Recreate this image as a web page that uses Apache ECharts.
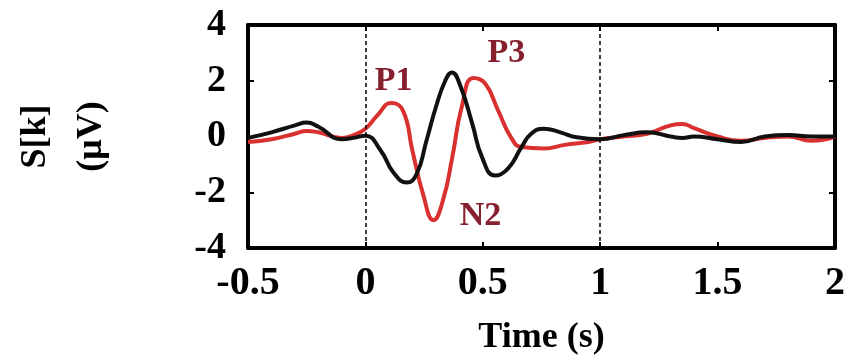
<!DOCTYPE html>
<html><head><meta charset="utf-8">
<script src="https://cdn.jsdelivr.net/npm/echarts@6/dist/echarts.min.js"></script>
<style>html,body{margin:0;padding:0;background:#fff}#c{width:849px;height:361px}</style>
</head><body><div id="c"></div>
<script>
const redTime = [-0.5,-0.4,-0.3,-0.25,-0.2,-0.1,-0.05,0,0.05,0.11,0.16,0.2,0.245,0.29,0.33,0.37,0.41,0.46,0.51,0.565,0.62,0.665,0.76,0.85,0.95,1.0,1.1,1.2,1.3,1.35,1.4,1.5,1.6,1.7,1.8,1.9,2.0];
const redValues = [-0.2,-0.1,0.1,0.2,0.15,-0.05,0.05,0.28,0.75,1.2,0.93,-0.5,-2.05,-3.0,-2.3,-0.75,1.05,2.1,1.9,0.94,-0.03,-0.38,-0.43,-0.3,-0.2,-0.1,0.0,0.1,0.4,0.45,0.3,0.0,-0.15,-0.05,0.0,-0.15,0.0];
const blackTime = [-0.5,-0.4,-0.3,-0.25,-0.2,-0.1,-0.05,0,0.065,0.12,0.176,0.218,0.26,0.3,0.34,0.368,0.405,0.455,0.497,0.552,0.607,0.665,0.706,0.76,0.83,0.9,1.0,1.1,1.2,1.3,1.35,1.4,1.5,1.6,1.7,1.8,1.9,2.0];
const blackValues = [-0.05,0.15,0.4,0.5,0.35,-0.1,-0.05,0.03,-0.5,-1.3,-1.65,-1.35,-0.15,1.05,2.0,2.3,1.8,0.46,-0.75,-1.4,-1.15,-0.38,0.1,0.28,0.15,-0.03,-0.1,0.05,0.15,0.0,-0.05,0.0,-0.1,-0.2,0.0,0.05,0.0,0.0];
const xTicks = [-0.5,0,0.5,1,1.5,2];
const yTicks = [-4,-2,0,2,4];
const markerLines = [0, 1];
const peakNames = ['P1','P3','N2'];
const peakX = [0.12, 0.6, 0.49];
const peakY = [2.0, 3.0, -2.85];

const font = 'Liberation Serif';
const chart = echarts.init(document.getElementById('c'));
const pair = (xs, ys) => xs.map((x, i) => [x, ys[i]]);
const boxLine = {show: true, onZero: false, lineStyle: {color: '#000', width: 4}};
const tick = {show: true, inside: true, length: 6, lineStyle: {color: '#000', width: 2}};
chart.setOption({
  animation: false,
  grid: {left: 240, right: 14, top: 25, bottom: 113},
  xAxis: [{
    type: 'value', min: -0.5, max: 2, interval: 0.5, position: 'bottom',
    axisLine: boxLine, axisTick: tick, splitLine: {show: false},
    axisLabel: {color: '#000', fontFamily: font, fontWeight: 'bold', fontSize: 40, margin: 16,
      formatter: v => String(v)},
    name: 'Time (s)', nameLocation: 'middle', nameGap: 72,
    nameTextStyle: {color: '#000', fontFamily: font, fontWeight: 'bold', fontSize: 36}
  }, {
    type: 'value', min: -0.5, max: 2, interval: 0.5, position: 'top',
    axisLine: boxLine, axisTick: tick, axisLabel: {show: false}, splitLine: {show: false}
  }],
  yAxis: [{
    type: 'value', min: -4, max: 4, interval: 2, position: 'left',
    axisLine: boxLine, axisTick: tick, splitLine: {show: false},
    axisLabel: {color: '#000', fontFamily: font, fontWeight: 'bold', fontSize: 38, margin: 22},
    name: 'S[k]\n(μV)', nameLocation: 'middle', nameGap: 128,
    nameTextStyle: {color: '#000', fontFamily: font, fontWeight: 'bold', fontSize: 36, lineHeight: 56}
  }, {
    type: 'value', min: -4, max: 4, interval: 2, position: 'right',
    axisLine: boxLine, axisTick: tick, axisLabel: {show: false}, splitLine: {show: false}
  }],
  series: [{
    type: 'line', name: 'red', data: pair(redTime, redValues), smooth: 0.5, showSymbol: false,
    lineStyle: {color: '#d93030', width: 4}, z: 3,
    markLine: {
      silent: true, symbol: 'none', label: {show: false},
      lineStyle: {color: '#000', type: [4, 3], width: 1.5},
      data: markerLines.map(v => ({xAxis: v}))
    },
    markPoint: {
      symbol: 'circle', symbolSize: 0,
      label: {show: true, position: 'inside', color: '#86202e', fontFamily: font, fontWeight: 'bold', fontSize: 34,
        formatter: p => p.name},
      data: peakNames.map((n, i) => ({name: n, coord: [peakX[i], peakY[i]]}))
    }
  }, {
    type: 'line', name: 'black', data: pair(blackTime, blackValues), smooth: 0.5, showSymbol: false,
    lineStyle: {color: '#111', width: 4}, z: 4
  }]
});
</script></body></html>
